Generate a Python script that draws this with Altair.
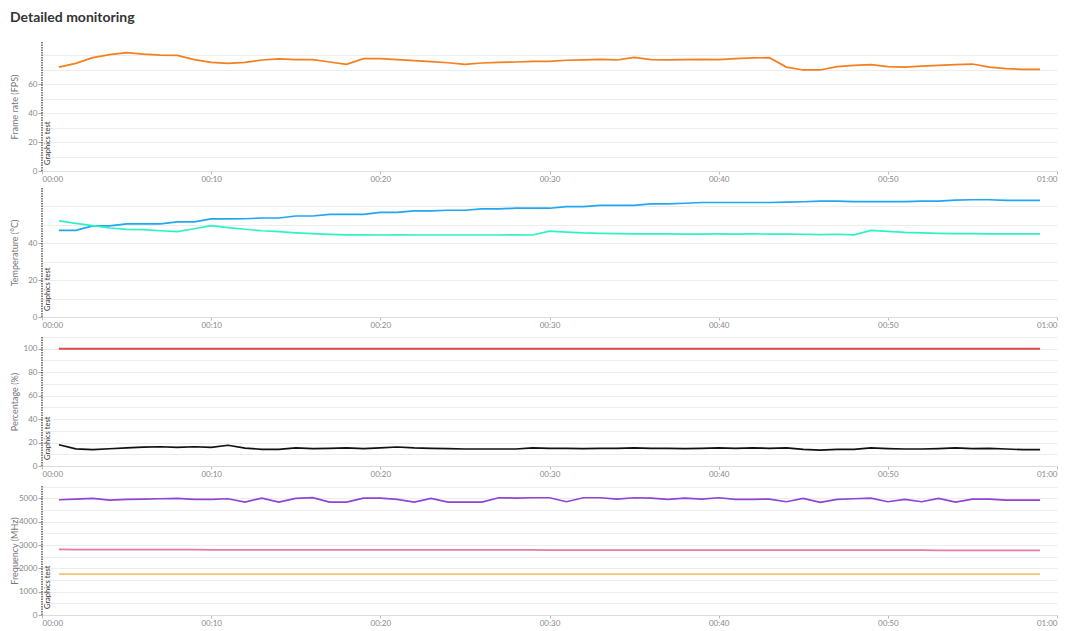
import altair as alt
import pandas as pd

t = list(range(1, 60))

fps = [71.7, 74.3, 78.2, 80.3, 81.7, 80.7, 80.0, 79.8, 76.8, 75.0,
       74.3, 75.0, 76.6, 77.3, 76.8, 76.8, 75.2, 73.6, 77.5, 77.5,
       76.8, 76.1, 75.4, 74.7, 73.6, 74.5, 75.0, 75.2, 75.7, 75.7,
       76.4, 76.6, 77.0, 76.6, 78.4, 76.8, 76.6, 76.8, 77.0, 76.8,
       77.5, 78.0, 78.2, 71.7, 69.7, 69.7, 72.0, 72.9, 73.4, 72.0,
       71.7, 72.4, 72.9, 73.4, 73.8, 71.7, 70.6, 70.1, 70.1]

temp_a = [46.9, 46.9, 49.3, 49.3, 50.4, 50.4, 50.4, 51.5, 51.5, 53.1,
          53.1, 53.2, 53.6, 53.6, 54.7, 54.7, 55.6, 55.6, 55.6, 56.7,
          56.7, 57.5, 57.5, 57.8, 57.8, 58.5, 58.5, 58.9, 58.9, 58.9,
          59.8, 59.8, 60.4, 60.4, 60.4, 61.3, 61.3, 61.6, 62.0, 62.0,
          62.0, 62.0, 62.0, 62.2, 62.4, 62.7, 62.7, 62.5, 62.5, 62.5,
          62.5, 62.7, 62.7, 63.3, 63.5, 63.5, 63.1, 63.1, 63.1]

temp_b = [52.0, 50.7, 49.5, 48.2, 47.5, 47.3, 46.7, 46.2, 47.8, 49.5,
          48.4, 47.5, 46.7, 46.2, 45.6, 45.1, 44.7, 44.5, 44.5, 44.4,
          44.5, 44.4, 44.4, 44.4, 44.4, 44.4, 44.4, 44.5, 44.4, 46.5,
          46.0, 45.5, 45.3, 45.1, 45.0, 45.0, 45.0, 44.9, 44.9, 45.0,
          44.9, 45.0, 44.9, 44.9, 44.8, 44.6, 44.8, 44.5, 46.9, 46.4,
          45.8, 45.5, 45.3, 45.1, 45.1, 45.0, 45.0, 45.0, 45.0]

pct_a = [100.0] * 59

pct_b = [18.1, 14.6, 13.9, 14.7, 15.4, 16.1, 16.4, 15.9, 16.4, 15.9,
         17.7, 15.3, 14.2, 14.2, 15.4, 14.8, 15.1, 15.4, 14.8, 15.4,
         16.2, 15.4, 15.1, 14.8, 14.5, 14.5, 14.5, 14.5, 15.4, 15.1,
         15.1, 14.8, 15.1, 15.1, 15.4, 15.1, 15.1, 14.8, 15.1, 15.4,
         15.1, 15.4, 15.1, 15.4, 14.2, 13.6, 14.2, 14.2, 15.4, 14.8,
         14.5, 14.5, 14.8, 15.4, 14.8, 15.1, 14.5, 13.9, 13.9]

freq_a = [4943, 4971, 5000, 4929, 4957, 4971, 4986, 5000, 4957, 4957,
          4986, 4843, 5014, 4843, 5000, 5029, 4843, 4843, 5014, 5014,
          4957, 4843, 5000, 4843, 4843, 4843, 5029, 5014, 5029, 5029,
          4857, 5029, 5029, 4971, 5029, 5014, 4957, 5014, 4971, 5029,
          4957, 4957, 4971, 4857, 5000, 4829, 4957, 4986, 5014, 4857,
          4957, 4857, 5000, 4843, 4971, 4971, 4929, 4929, 4929]

freq_b = [2810, 2805, 2800, 2800, 2800, 2800, 2800, 2800, 2800, 2795,
          2790, 2790, 2790, 2790, 2790, 2790, 2790, 2790, 2790, 2790,
          2790, 2790, 2790, 2790, 2790, 2790, 2790, 2790, 2790, 2785,
          2785, 2785, 2785, 2785, 2785, 2785, 2785, 2785, 2785, 2780,
          2780, 2780, 2780, 2780, 2780, 2780, 2780, 2780, 2780, 2780,
          2780, 2780, 2775, 2775, 2775, 2775, 2775, 2775, 2775]

freq_c = [1750] * 59

x_ticks = [0, 10, 20, 30, 40, 50, 60]
marker_time = [0]
marker_label = ["Graphics test"]

FONT = "Lato"
W, H = 1015, 129


def panel(series, colors, widths, ytitle, ymax, grid_step, label_step, label_max):
    grid_vals = list(range(0, int(ymax) + 1, grid_step))
    test = f"datum.value % {label_step} === 0 && datum.value <= {label_max}"
    xaxis = alt.Axis(
        values=x_ticks, title=None, grid=False, labelOverlap=False,
        labelExpr="(datum.value >= 60 ? '01' : '00') + ':' + (datum.value % 60 < 10 ? '0' : '') + (datum.value % 60)",
        domainColor="#dddddd", tickColor="#bbbbbb", tickSize=3,
        labelFontSize=8, labelColor="#888888", labelPadding=1, labelFont=FONT,
    )
    yaxis = alt.Axis(
        title=ytitle, values=grid_vals, format="d", labelOverlap=False,
        labelExpr=f"({test}) ? datum.label : ''",
        tickOpacity={"condition": {"test": test, "value": 1}, "value": 0},
        domain=False, grid=True, gridColor="#ededed",
        tickColor="#aaaaaa", tickSize=4, labelPadding=1,
        labelFontSize=8, labelColor="#888888", labelFont=FONT,
        titleFontSize=9, titleColor="#777777", titleFontWeight="normal", titleFont=FONT,
        titlePadding=3, minExtent=20, maxExtent=20,
    )
    xs = alt.Scale(domain=[0, 60], nice=False)
    ys = alt.Scale(domain=[0, ymax], nice=False)
    layers = []
    for vals, c, w in zip(series, colors, widths):
        df = pd.DataFrame({"t": t, "v": vals})
        enc = dict(x=alt.X("t:Q", scale=xs, axis=xaxis), y=alt.Y("v:Q", scale=ys, axis=yaxis))
        layers.append(alt.Chart(df).mark_line(color=c, strokeWidth=w).encode(**enc))
    mdf = pd.DataFrame({"t": marker_time, "label": marker_label})
    rule = alt.Chart(mdf).mark_rule(strokeDash=[1.5, 1], color="#333333", strokeWidth=1.2).encode(
        x=alt.X("t:Q", scale=xs, axis=xaxis)
    )
    text = alt.Chart(mdf).mark_text(
        angle=270, align="left", baseline="top", fontSize=7.5, font=FONT, color="#333333"
    ).encode(x=alt.value(1.5), y=alt.value(H - 6), text="label:N")
    return alt.layer(*layers, rule, text).properties(width=W, height=H)


p1 = panel([fps], ["#f47f1f"], [1.7], "Frame rate (FPS)", 89, 10, 20, 60)
p2 = panel([temp_a, temp_b], ["#22a6f2", "#2ef2c4"], [1.7, 1.7],
           "Temperature (°C)", 69.85, 10, 20, 40)
p3 = panel([pct_a, pct_b], ["#e0474c", "#111111"], [2.0, 1.7],
           "Percentage (%)", 110, 10, 20, 100)
p4 = panel([freq_a, freq_b, freq_c], ["#8e44d4", "#e57ba6", "#f0c674"], [1.7, 1.7, 1.7],
           "Frequency (MHz)", 5532, 500, 1000, 5000)

chart = alt.vconcat(p1, p2, p3, p4, spacing=4).properties(
    title=alt.TitleParams("Detailed monitoring", anchor="start", fontSize=14, font=FONT,
                          fontWeight="bold", color="#333333", offset=16),
    padding={"left": 2, "top": 3, "right": 5, "bottom": 0},
).configure_view(stroke=None)

chart.save("out.html", embed_options={"renderer": "svg", "actions": False})
